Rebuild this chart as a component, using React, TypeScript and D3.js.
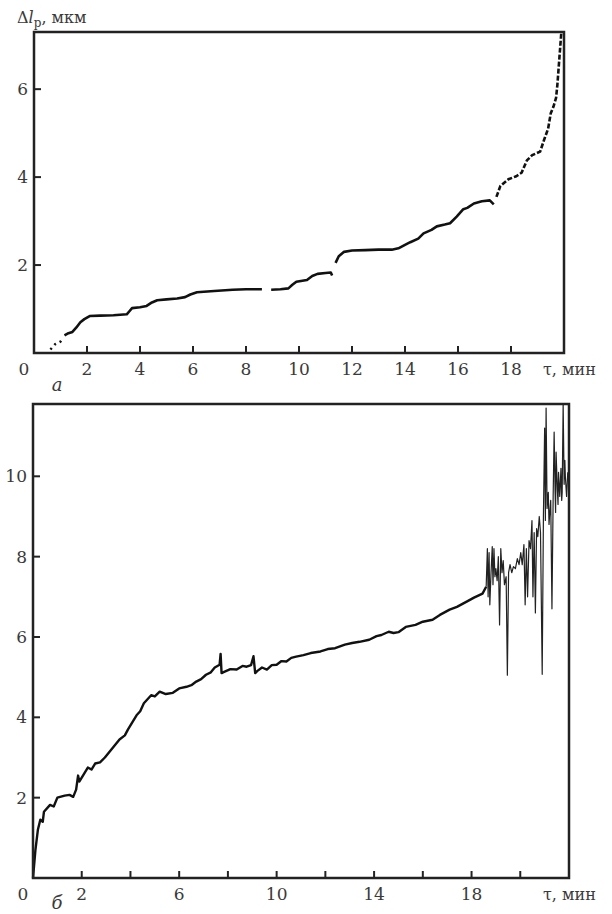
import * as d3 from 'd3'

// panel "а": elongation vs time, broken into the pieces the recorder drew
const aStart = [[0.62, 0.08], [0.8, 0.2], [1.0, 0.26], [1.1, 0.35]]
const aMain = [
  [1.15, 0.4], [1.3, 0.45], [1.45, 0.48], [1.6, 0.58], [1.75, 0.7], [1.9, 0.77],
  [2.1, 0.84], [2.5, 0.85], [3.0, 0.86], [3.5, 0.88], [3.6, 0.95], [3.7, 1.02],
  [4.0, 1.04], [4.25, 1.07], [4.45, 1.15], [4.65, 1.2], [5.0, 1.22], [5.4, 1.24],
  [5.7, 1.27], [5.9, 1.33], [6.15, 1.38], [6.8, 1.41], [7.5, 1.44], [8.0, 1.45],
  [8.6, 1.45],
]
const aMid = [
  [8.95, 1.44], [9.3, 1.45], [9.6, 1.47], [9.75, 1.55], [9.9, 1.62], [10.3, 1.66],
  [10.5, 1.75], [10.7, 1.8], [11.0, 1.82], [11.2, 1.83], [11.25, 1.76],
]
const aUpper = [
  [11.38, 2.05], [11.5, 2.2], [11.7, 2.3], [12.0, 2.33], [12.5, 2.34], [13.0, 2.35],
  [13.5, 2.35], [13.75, 2.38], [14.0, 2.46], [14.2, 2.52], [14.5, 2.6], [14.7, 2.72],
  [15.0, 2.8], [15.2, 2.88], [15.5, 2.92], [15.7, 2.95], [15.95, 3.1], [16.2, 3.27],
  [16.35, 3.3], [16.6, 3.4], [16.9, 3.45], [17.2, 3.47], [17.35, 3.38],
]
const aEnd = [
  [17.45, 3.55], [17.6, 3.8], [17.9, 3.95], [18.2, 4.02], [18.4, 4.1], [18.6, 4.38],
  [18.8, 4.5], [19.1, 4.58], [19.25, 4.85], [19.4, 5.1], [19.5, 5.45], [19.6, 5.6],
  [19.7, 5.8], [19.75, 6.1], [19.8, 6.5], [19.85, 6.9], [19.9, 7.3],
]

// panel "б"
const bMain = [
  [0, 0], [0.1, 0.7], [0.2, 1.2], [0.3, 1.45], [0.4, 1.4], [0.45, 1.65], [0.7, 1.82],
  [0.85, 1.78], [1.0, 2.0], [1.3, 2.05], [1.5, 2.07], [1.65, 2.02], [1.77, 2.2],
  [1.85, 2.55], [1.9, 2.4], [2.1, 2.6], [2.25, 2.75], [2.4, 2.7], [2.55, 2.85],
  [2.75, 2.88], [2.95, 3.0], [3.15, 3.15], [3.35, 3.3], [3.55, 3.45], [3.77, 3.55],
  [3.9, 3.7], [4.05, 3.85], [4.25, 4.05], [4.4, 4.15], [4.55, 4.35], [4.7, 4.45],
  [4.85, 4.55], [5.0, 4.52], [5.2, 4.64], [5.45, 4.58], [5.74, 4.61], [6.0, 4.72],
  [6.3, 4.76], [6.5, 4.8], [6.7, 4.89], [6.9, 4.95], [7.1, 5.06], [7.3, 5.12],
  [7.46, 5.24], [7.66, 5.31], [7.7, 5.58], [7.74, 5.1], [7.8, 5.12], [8.1, 5.2],
  [8.36, 5.19], [8.6, 5.28], [8.77, 5.26], [8.95, 5.3], [9.05, 5.52], [9.12, 5.1],
  [9.2, 5.15], [9.4, 5.24], [9.6, 5.19], [9.8, 5.3], [10.0, 5.31], [10.2, 5.4],
  [10.4, 5.39], [10.6, 5.48], [10.8, 5.51], [11.1, 5.55], [11.4, 5.6], [11.8, 5.64],
  [12.1, 5.7], [12.4, 5.72], [12.8, 5.81], [13.1, 5.85], [13.4, 5.88], [13.8, 5.93],
  [14.1, 6.02], [14.3, 6.05], [14.6, 6.13], [14.8, 6.1], [15.0, 6.12], [15.3, 6.25],
  [15.7, 6.3], [16.0, 6.38], [16.4, 6.43], [16.7, 6.55], [17.1, 6.68], [17.4, 6.75],
  [17.8, 6.88], [18.1, 6.98], [18.45, 7.08], [18.6, 7.25],
]
const bTail = [
  [18.6, 7.25], [18.65, 8.2], [18.68, 7.0], [18.72, 8.1], [18.75, 6.8], [18.8, 7.6],
  [18.85, 8.25], [18.88, 7.3], [18.92, 8.2], [18.96, 7.5], [19.0, 7.7], [19.05, 7.4],
  [19.1, 8.0], [19.15, 6.3], [19.2, 8.2], [19.25, 7.6], [19.3, 7.9], [19.35, 7.3],
  [19.42, 7.5], [19.47, 5.05], [19.52, 7.6], [19.58, 7.8], [19.65, 7.6], [19.72, 7.75],
  [19.8, 7.7], [19.88, 7.95], [19.95, 7.8], [20.02, 8.1], [20.08, 7.8], [20.15, 8.3],
  [20.2, 6.8], [20.25, 8.2], [20.3, 7.0], [20.36, 8.4], [20.42, 8.2], [20.48, 8.9],
  [20.52, 7.0], [20.57, 8.6], [20.62, 6.6], [20.67, 8.7], [20.72, 8.5], [20.78, 9.0],
  [20.83, 8.6], [20.9, 5.07], [20.95, 9.0], [21.0, 11.2], [21.03, 8.9], [21.06, 11.7],
  [21.1, 9.2], [21.15, 9.6], [21.18, 8.8], [21.2, 9.0], [21.25, 9.4], [21.3, 6.7],
  [21.35, 9.5], [21.39, 11.1], [21.43, 9.6], [21.45, 9.1], [21.47, 10.6], [21.52, 9.7],
  [21.55, 9.3], [21.57, 10.1], [21.62, 9.5], [21.67, 10.2], [21.7, 9.4], [21.72, 9.6],
  [21.76, 11.8], [21.8, 9.8], [21.83, 10.4], [21.85, 10.0], [21.9, 9.5], [21.95, 10.1],
]

const aXTicks = [2, 4, 6, 8, 10, 12, 14, 16, 18]
const aYTicks = [2, 4, 6]
const bXTicks = [2, 4, 6, 8, 10, 12, 14, 16, 18, 20]
const bXLabels = [2, 6, 10, 14, 18]
const bYTicks = [2, 4, 6, 8, 10]

const FONT = 'DejaVu Serif'
const INK = '#222'
const LABEL = '#3a3a3a'

const Panel = ({ x, y, xTicks, xLabels, yTicks, series, letter, letterY }) => {
  const [x0, x1] = x.range()
  const [y0, y1] = y.range()
  const line = d3.line().x(d => x(d[0])).y(d => y(d[1]))
  return (
    <g>
      {series.map((s, i) => (
        <path
          key={i}
          d={line(s.data)}
          fill="none"
          stroke={s.color || '#111'}
          strokeWidth={s.width}
          strokeDasharray={s.dash}
          strokeLinejoin="round"
        />
      ))}
      <rect x={x0} y={y1} width={x1 - x0} height={y0 - y1} fill="none" stroke={INK} strokeWidth={2.5} />
      {xTicks.map(t => (
        <path key={t} d={`M ${x(t)} ${y0} V ${y0 - 7}`} stroke={INK} strokeWidth={2} />
      ))}
      {yTicks.map(t => (
        <path key={t} d={`M ${x0} ${y(t)} H ${x0 + 7}`} stroke={INK} strokeWidth={2} />
      ))}
      <g fontFamily={FONT} fontSize={17} fill={LABEL}>
        <text x={x0 - 10} y={y0 + 22} textAnchor="middle">0</text>
        {xLabels.map(t => (
          <text key={t} x={x(t)} y={y0 + 22} textAnchor="middle">{t}</text>
        ))}
        {yTicks.map(t => (
          <text key={t} x={x0 - 6} y={y(t) + 6} textAnchor="end">{t}</text>
        ))}
        <text x={543} y={y0 + 22} fontSize={16}>τ, мин</text>
        <text x={57} y={letterY} fontStyle="italic" fontSize={18} textAnchor="middle">{letter}</text>
      </g>
    </g>
  )
}

export default function App() {
  const xa = d3.scaleLinear().domain([0, 20]).range([34, 564])
  const ya = d3.scaleLinear().domain([0, 7.3]).range([353, 32])
  const xb = d3.scaleLinear().domain([0, 22]).range([33, 569])
  const yb = d3.scaleLinear().domain([0, 11.8]).range([878, 404])

  return (
    <div style={{ position: 'absolute', left: 0, top: 0 }}>
      <svg width={612} height={914} viewBox="0 0 612 914" style={{ display: 'block', background: '#fff' }}>
        <text x={17} y={23} fontFamily={FONT} fontSize={16} fill={LABEL}>
          Δ<tspan fontStyle="italic">l</tspan>
          <tspan fontSize={12} dy={4}>р</tspan>
          <tspan dy={-4}>, мкм</tspan>
        </text>
        <Panel
          x={xa}
          y={ya}
          xTicks={aXTicks}
          xLabels={aXTicks}
          yTicks={aYTicks}
          letter="а"
          letterY={391}
          series={[
            { data: aStart, width: 2.5, dash: '2,4' },
            { data: aMain, width: 2.6 },
            { data: aMid, width: 2.6 },
            { data: aUpper, width: 2.6 },
            { data: aEnd, width: 2.6, dash: '5,2' },
          ]}
        />
        <Panel
          x={xb}
          y={yb}
          xTicks={bXTicks}
          xLabels={bXLabels}
          yTicks={bYTicks}
          letter="б"
          letterY={909}
          series={[
            { data: bMain, width: 2.4 },
            { data: bTail, width: 1.2, color: '#222' },
          ]}
        />
      </svg>
    </div>
  )
}
